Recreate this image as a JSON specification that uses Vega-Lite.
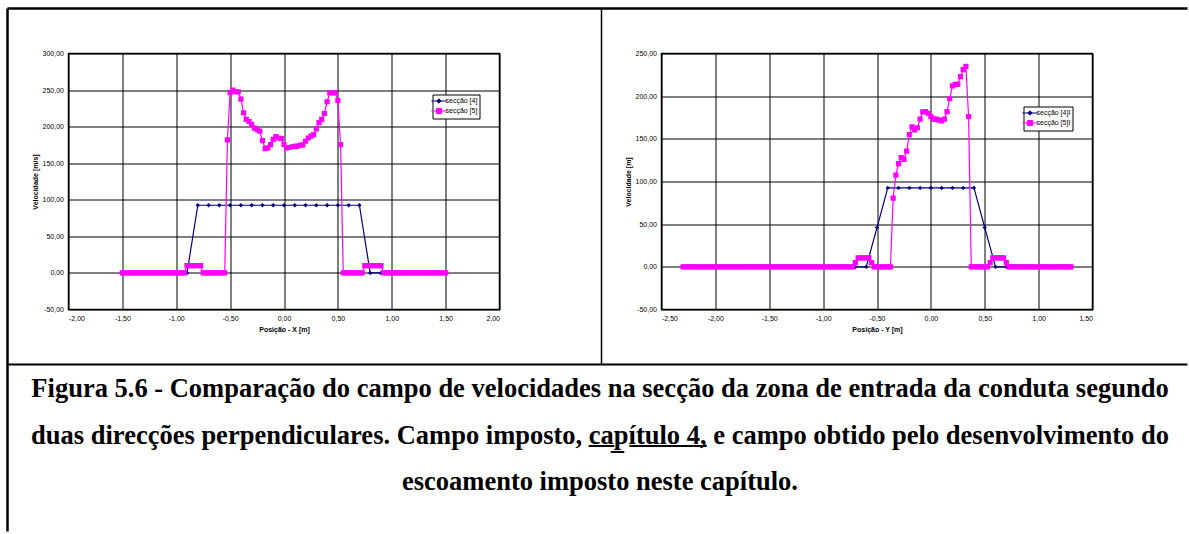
{
  "$schema": "https://vega.github.io/schema/vega-lite/v6.json",
  "background": "white",
  "padding": {"left": 4.5, "top": 6.5, "right": 0, "bottom": 0},
  "config": {
    "locale": {"number": {"decimal": ",", "thousands": ".", "grouping": [3], "currency": ["", " €"], "minus": "-"}},
    "view": {"stroke": "#000", "strokeWidth": 1.5},
    "axis": {"labelFont": "Liberation Sans", "labelFontSize": 7, "labelColor": "#000", "titleFont": "Liberation Sans", "titleFontSize": 7, "titleFontWeight": "bold", "titleColor": "#000", "grid": true, "gridColor": "#000", "gridWidth": 1, "gridOpacity": 1, "domain": false, "ticks": false, "labelPadding": 5, "labelOverlap": false},
    "axisX": {"titlePadding": 4},
    "axisY": {"titlePadding": 4},
    "legend": {"labelFont": "Liberation Sans", "labelFontSize": 7, "labelColor": "#000", "strokeColor": "#000", "fillColor": "#fff", "padding": 2, "rowPadding": 0, "symbolSize": 64, "symbolStrokeWidth": 1, "labelOffset": 2}
  },
  "hconcat": [
    {
      "width": 431,
      "height": 256,
      "layer": [
        {
          "data": {"values": [
            {"x": -0.9, "v": 0, "s": "secção [4]"}, {"x": -0.8, "v": 92.5, "s": "secção [4]"}, {"x": -0.7, "v": 92.5, "s": "secção [4]"}, {"x": -0.6, "v": 92.5, "s": "secção [4]"}, {"x": -0.5, "v": 92.5, "s": "secção [4]"}, {"x": -0.4, "v": 92.5, "s": "secção [4]"}, {"x": -0.3, "v": 92.5, "s": "secção [4]"}, {"x": -0.2, "v": 92.5, "s": "secção [4]"}, {"x": -0.1, "v": 92.5, "s": "secção [4]"}, {"x": 0, "v": 92.5, "s": "secção [4]"}, {"x": 0.1, "v": 92.5, "s": "secção [4]"}, {"x": 0.2, "v": 92.5, "s": "secção [4]"}, {"x": 0.3, "v": 92.5, "s": "secção [4]"}, {"x": 0.4, "v": 92.5, "s": "secção [4]"}, {"x": 0.5, "v": 92.5, "s": "secção [4]"}, {"x": 0.6, "v": 92.5, "s": "secção [4]"}, {"x": 0.7, "v": 92.5, "s": "secção [4]"}, {"x": 0.8, "v": 0, "s": "secção [4]"}, {"x": 0.9, "v": 0, "s": "secção [4]"},
            {"x": -1.5, "v": 0, "s": "secção [5]"}, {"x": -1.475, "v": 0, "s": "secção [5]"}, {"x": -1.45, "v": 0, "s": "secção [5]"}, {"x": -1.425, "v": 0, "s": "secção [5]"}, {"x": -1.4, "v": 0, "s": "secção [5]"}, {"x": -1.375, "v": 0, "s": "secção [5]"}, {"x": -1.35, "v": 0, "s": "secção [5]"}, {"x": -1.325, "v": 0, "s": "secção [5]"}, {"x": -1.3, "v": 0, "s": "secção [5]"}, {"x": -1.275, "v": 0, "s": "secção [5]"}, {"x": -1.25, "v": 0, "s": "secção [5]"}, {"x": -1.225, "v": 0, "s": "secção [5]"}, {"x": -1.2, "v": 0, "s": "secção [5]"}, {"x": -1.175, "v": 0, "s": "secção [5]"}, {"x": -1.15, "v": 0, "s": "secção [5]"}, {"x": -1.125, "v": 0, "s": "secção [5]"}, {"x": -1.1, "v": 0, "s": "secção [5]"}, {"x": -1.075, "v": 0, "s": "secção [5]"}, {"x": -1.05, "v": 0, "s": "secção [5]"}, {"x": -1.025, "v": 0, "s": "secção [5]"}, {"x": -1, "v": 0, "s": "secção [5]"}, {"x": -0.975, "v": 0, "s": "secção [5]"}, {"x": -0.95, "v": 0, "s": "secção [5]"}, {"x": -0.925, "v": 0, "s": "secção [5]"},
            {"x": -0.9, "v": 10, "s": "secção [5]"}, {"x": -0.875, "v": 10, "s": "secção [5]"}, {"x": -0.85, "v": 10, "s": "secção [5]"}, {"x": -0.825, "v": 10, "s": "secção [5]"}, {"x": -0.8, "v": 10, "s": "secção [5]"}, {"x": -0.775, "v": 10, "s": "secção [5]"},
            {"x": -0.75, "v": 0, "s": "secção [5]"}, {"x": -0.725, "v": 0, "s": "secção [5]"}, {"x": -0.7, "v": 0, "s": "secção [5]"}, {"x": -0.675, "v": 0, "s": "secção [5]"}, {"x": -0.65, "v": 0, "s": "secção [5]"}, {"x": -0.625, "v": 0, "s": "secção [5]"}, {"x": -0.6, "v": 0, "s": "secção [5]"}, {"x": -0.575, "v": 0, "s": "secção [5]"}, {"x": -0.55, "v": 0, "s": "secção [5]"},
            {"x": -0.525, "v": 182, "s": "secção [5]"}, {"x": -0.5, "v": 246.5, "s": "secção [5]"}, {"x": -0.475, "v": 250, "s": "secção [5]"}, {"x": -0.45, "v": 248, "s": "secção [5]"}, {"x": -0.425, "v": 247.5, "s": "secção [5]"}, {"x": -0.4, "v": 237.5, "s": "secção [5]"}, {"x": -0.375, "v": 219, "s": "secção [5]"}, {"x": -0.35, "v": 210, "s": "secção [5]"}, {"x": -0.325, "v": 207, "s": "secção [5]"}, {"x": -0.3, "v": 203, "s": "secção [5]"}, {"x": -0.275, "v": 198, "s": "secção [5]"}, {"x": -0.25, "v": 196, "s": "secção [5]"}, {"x": -0.225, "v": 194, "s": "secção [5]"}, {"x": -0.2, "v": 181, "s": "secção [5]"}, {"x": -0.175, "v": 170, "s": "secção [5]"}, {"x": -0.15, "v": 171, "s": "secção [5]"}, {"x": -0.125, "v": 175.5, "s": "secção [5]"}, {"x": -0.1, "v": 182.5, "s": "secção [5]"}, {"x": -0.075, "v": 186.5, "s": "secção [5]"}, {"x": -0.05, "v": 184.5, "s": "secção [5]"}, {"x": -0.025, "v": 183.5, "s": "secção [5]"}, {"x": 0, "v": 175.5, "s": "secção [5]"}, {"x": 0.025, "v": 171, "s": "secção [5]"}, {"x": 0.05, "v": 171.5, "s": "secção [5]"}, {"x": 0.075, "v": 172.5, "s": "secção [5]"}, {"x": 0.1, "v": 173, "s": "secção [5]"}, {"x": 0.125, "v": 173.5, "s": "secção [5]"}, {"x": 0.15, "v": 174.5, "s": "secção [5]"}, {"x": 0.175, "v": 175, "s": "secção [5]"}, {"x": 0.2, "v": 180, "s": "secção [5]"}, {"x": 0.225, "v": 184.5, "s": "secção [5]"}, {"x": 0.25, "v": 187, "s": "secção [5]"}, {"x": 0.275, "v": 189, "s": "secção [5]"}, {"x": 0.3, "v": 197, "s": "secção [5]"}, {"x": 0.325, "v": 205.5, "s": "secção [5]"}, {"x": 0.35, "v": 210, "s": "secção [5]"}, {"x": 0.375, "v": 218, "s": "secção [5]"}, {"x": 0.4, "v": 234, "s": "secção [5]"}, {"x": 0.425, "v": 246, "s": "secção [5]"}, {"x": 0.45, "v": 246.5, "s": "secção [5]"}, {"x": 0.475, "v": 246, "s": "secção [5]"}, {"x": 0.5, "v": 236, "s": "secção [5]"}, {"x": 0.525, "v": 175.5, "s": "secção [5]"},
            {"x": 0.55, "v": 0, "s": "secção [5]"}, {"x": 0.575, "v": 0, "s": "secção [5]"}, {"x": 0.6, "v": 0, "s": "secção [5]"}, {"x": 0.625, "v": 0, "s": "secção [5]"}, {"x": 0.65, "v": 0, "s": "secção [5]"}, {"x": 0.675, "v": 0, "s": "secção [5]"}, {"x": 0.7, "v": 0, "s": "secção [5]"}, {"x": 0.725, "v": 0, "s": "secção [5]"},
            {"x": 0.75, "v": 10, "s": "secção [5]"}, {"x": 0.775, "v": 10, "s": "secção [5]"}, {"x": 0.8, "v": 10, "s": "secção [5]"}, {"x": 0.825, "v": 10, "s": "secção [5]"}, {"x": 0.85, "v": 10, "s": "secção [5]"}, {"x": 0.875, "v": 10, "s": "secção [5]"}, {"x": 0.9, "v": 10, "s": "secção [5]"},
            {"x": 0.925, "v": 0, "s": "secção [5]"}, {"x": 0.95, "v": 0, "s": "secção [5]"}, {"x": 0.975, "v": 0, "s": "secção [5]"}, {"x": 1, "v": 0, "s": "secção [5]"}, {"x": 1.025, "v": 0, "s": "secção [5]"}, {"x": 1.05, "v": 0, "s": "secção [5]"}, {"x": 1.075, "v": 0, "s": "secção [5]"}, {"x": 1.1, "v": 0, "s": "secção [5]"}, {"x": 1.125, "v": 0, "s": "secção [5]"}, {"x": 1.15, "v": 0, "s": "secção [5]"}, {"x": 1.175, "v": 0, "s": "secção [5]"}, {"x": 1.2, "v": 0, "s": "secção [5]"}, {"x": 1.225, "v": 0, "s": "secção [5]"}, {"x": 1.25, "v": 0, "s": "secção [5]"}, {"x": 1.275, "v": 0, "s": "secção [5]"}, {"x": 1.3, "v": 0, "s": "secção [5]"}, {"x": 1.325, "v": 0, "s": "secção [5]"}, {"x": 1.35, "v": 0, "s": "secção [5]"}, {"x": 1.375, "v": 0, "s": "secção [5]"}, {"x": 1.4, "v": 0, "s": "secção [5]"}, {"x": 1.425, "v": 0, "s": "secção [5]"}, {"x": 1.45, "v": 0, "s": "secção [5]"}, {"x": 1.475, "v": 0, "s": "secção [5]"}, {"x": 1.5, "v": 0, "s": "secção [5]"}
          ]},
          "layer": [
            {
              "mark": {"type": "line", "strokeWidth": 1.2},
              "encoding": {
                "x": {"field": "x", "type": "quantitative", "scale": {"domain": [-2, 2], "nice": false, "zero": false}, "axis": {"values": [-2, -1.5, -1, -0.5, 0, 0.5, 1, 1.5, 2], "tickCount": 30, "format": ".2f", "title": "Posição - X [m]", "labelOverlap": false}},
                "y": {"field": "v", "type": "quantitative", "scale": {"domain": [-50, 300], "nice": false, "zero": false}, "axis": {"values": [-50, 0, 50, 100, 150, 200, 250, 300], "tickCount": 30, "format": ".2f", "title": "Velocidade [m/s]", "labelOverlap": false}},
                "color": {"field": "s", "type": "nominal", "scale": {"domain": ["secção [4]", "secção [5]"], "range": ["#000080", "#ff00ff"]}, "legend": {"orient": "none", "legendX": 364, "legendY": 41, "title": null}}
              }
            },
            {
              "mark": {"type": "point", "filled": true, "size": 64, "opacity": 1},
              "encoding": {
                "x": {"field": "x", "type": "quantitative"},
                "y": {"field": "v", "type": "quantitative"},
                "color": {"field": "s", "type": "nominal", "scale": {"domain": ["secção [4]", "secção [5]"], "range": ["#000080", "#ff00ff"]}, "legend": {"orient": "none", "legendX": 364, "legendY": 41, "title": null}},
                "shape": {"field": "s", "type": "nominal", "scale": {"domain": ["secção [4]", "secção [5]"], "range": ["M-1.9,0L1.9,0M0,-0.55L0.55,0L0,0.55L-0.55,0Z", "M-1.9,0L1.9,0M-0.65,-0.65L0.65,-0.65L0.65,0.65L-0.65,0.65Z"]}, "legend": {"orient": "none", "legendX": 364, "legendY": 41, "title": null}}
              }
            },
            {
              "data": {"values": [{}]},
              "mark": {"type": "rule", "color": "#000", "strokeWidth": 2.5, "clip": false},
              "encoding": {"x": {"datum": -2.56613, "type": "quantitative"}, "y": {"datum": 361.523, "type": "quantitative"}, "y2": {"datum": -353.52}}
            },
            {
              "data": {"values": [{}]},
              "mark": {"type": "rule", "color": "#000", "strokeWidth": 2.5, "clip": false},
              "encoding": {"x": {"datum": -2.56613, "type": "quantitative"}, "x2": {"datum": 8.385}, "y": {"datum": 361.523, "type": "quantitative"}}
            },
            {
              "data": {"values": [{}]},
              "mark": {"type": "rule", "color": "#000", "strokeWidth": 1.5, "clip": false},
              "encoding": {"x": {"datum": 2.9466, "type": "quantitative"}, "y": {"datum": 361.523, "type": "quantitative"}, "y2": {"datum": -125.195}}
            },
            {
              "data": {"values": [{}]},
              "mark": {"type": "rule", "color": "#000", "strokeWidth": 2, "clip": false},
              "encoding": {"x": {"datum": -2.56613, "type": "quantitative"}, "x2": {"datum": 8.385}, "y": {"datum": -125.195, "type": "quantitative"}}
            }
          ]
        },
        {
          "data": {"values": [
            {"line": 1, "t": "Figura 5.6 - Comparação do campo de velocidades na secção da zona de entrada da conduta segundo"},
            {"line": 2, "t": "duas direcções perpendiculares. Campo imposto, c\u0332a\u0332p\u0332\u00ed\u0332t\u0332u\u0332l\u0332o\u0332 \u03324\u0332, e campo obtido pelo desenvolvimento do"},
            {"line": 3, "t": "escoamento imposto neste capítulo."}
          ]},
          "mark": {"type": "text", "font": "Liberation Serif", "fontWeight": "bold", "fontSize": 26.5, "align": "center", "baseline": "alphabetic", "color": "#000", "clip": false},
          "encoding": {
            "x": {"datum": 2.9327, "type": "quantitative"},
            "y": {"field": "line", "type": "quantitative", "scale": {"domain": [-6.3978, -0.8924], "reverse": true, "nice": false, "zero": false}, "axis": null},
            "text": {"field": "t", "type": "nominal"}
          }
        }
      ],
      "resolve": {"scale": {"y": "independent"}}
    },
    {
      "width": 431,
      "height": 256,
      "data": {"values": [
        {"x": -0.7, "v": 0, "s": "secção [4]I"}, {"x": -0.6, "v": 0, "s": "secção [4]I"}, {"x": -0.5, "v": 46, "s": "secção [4]I"}, {"x": -0.4, "v": 92.5, "s": "secção [4]I"}, {"x": -0.3, "v": 92.5, "s": "secção [4]I"}, {"x": -0.2, "v": 92.5, "s": "secção [4]I"}, {"x": -0.1, "v": 92.5, "s": "secção [4]I"}, {"x": 0, "v": 92.5, "s": "secção [4]I"}, {"x": 0.1, "v": 92.5, "s": "secção [4]I"}, {"x": 0.2, "v": 92.5, "s": "secção [4]I"}, {"x": 0.3, "v": 92.5, "s": "secção [4]I"}, {"x": 0.4, "v": 92.5, "s": "secção [4]I"}, {"x": 0.5, "v": 46, "s": "secção [4]I"}, {"x": 0.6, "v": 0, "s": "secção [4]I"}, {"x": 0.7, "v": 0, "s": "secção [4]I"},
        {"x": -2.3, "v": 0, "s": "secção [5]I"}, {"x": -2.275, "v": 0, "s": "secção [5]I"}, {"x": -2.25, "v": 0, "s": "secção [5]I"}, {"x": -2.225, "v": 0, "s": "secção [5]I"}, {"x": -2.2, "v": 0, "s": "secção [5]I"}, {"x": -2.175, "v": 0, "s": "secção [5]I"}, {"x": -2.15, "v": 0, "s": "secção [5]I"}, {"x": -2.125, "v": 0, "s": "secção [5]I"}, {"x": -2.1, "v": 0, "s": "secção [5]I"}, {"x": -2.075, "v": 0, "s": "secção [5]I"}, {"x": -2.05, "v": 0, "s": "secção [5]I"}, {"x": -2.025, "v": 0, "s": "secção [5]I"}, {"x": -2, "v": 0, "s": "secção [5]I"}, {"x": -1.975, "v": 0, "s": "secção [5]I"}, {"x": -1.95, "v": 0, "s": "secção [5]I"}, {"x": -1.925, "v": 0, "s": "secção [5]I"}, {"x": -1.9, "v": 0, "s": "secção [5]I"}, {"x": -1.875, "v": 0, "s": "secção [5]I"}, {"x": -1.85, "v": 0, "s": "secção [5]I"}, {"x": -1.825, "v": 0, "s": "secção [5]I"}, {"x": -1.8, "v": 0, "s": "secção [5]I"}, {"x": -1.775, "v": 0, "s": "secção [5]I"}, {"x": -1.75, "v": 0, "s": "secção [5]I"}, {"x": -1.725, "v": 0, "s": "secção [5]I"}, {"x": -1.7, "v": 0, "s": "secção [5]I"}, {"x": -1.675, "v": 0, "s": "secção [5]I"}, {"x": -1.65, "v": 0, "s": "secção [5]I"}, {"x": -1.625, "v": 0, "s": "secção [5]I"}, {"x": -1.6, "v": 0, "s": "secção [5]I"}, {"x": -1.575, "v": 0, "s": "secção [5]I"}, {"x": -1.55, "v": 0, "s": "secção [5]I"}, {"x": -1.525, "v": 0, "s": "secção [5]I"}, {"x": -1.5, "v": 0, "s": "secção [5]I"}, {"x": -1.475, "v": 0, "s": "secção [5]I"}, {"x": -1.45, "v": 0, "s": "secção [5]I"}, {"x": -1.425, "v": 0, "s": "secção [5]I"}, {"x": -1.4, "v": 0, "s": "secção [5]I"}, {"x": -1.375, "v": 0, "s": "secção [5]I"}, {"x": -1.35, "v": 0, "s": "secção [5]I"}, {"x": -1.325, "v": 0, "s": "secção [5]I"}, {"x": -1.3, "v": 0, "s": "secção [5]I"}, {"x": -1.275, "v": 0, "s": "secção [5]I"}, {"x": -1.25, "v": 0, "s": "secção [5]I"}, {"x": -1.225, "v": 0, "s": "secção [5]I"}, {"x": -1.2, "v": 0, "s": "secção [5]I"}, {"x": -1.175, "v": 0, "s": "secção [5]I"}, {"x": -1.15, "v": 0, "s": "secção [5]I"}, {"x": -1.125, "v": 0, "s": "secção [5]I"}, {"x": -1.1, "v": 0, "s": "secção [5]I"}, {"x": -1.075, "v": 0, "s": "secção [5]I"}, {"x": -1.05, "v": 0, "s": "secção [5]I"}, {"x": -1.025, "v": 0, "s": "secção [5]I"}, {"x": -1, "v": 0, "s": "secção [5]I"}, {"x": -0.975, "v": 0, "s": "secção [5]I"}, {"x": -0.95, "v": 0, "s": "secção [5]I"}, {"x": -0.925, "v": 0, "s": "secção [5]I"}, {"x": -0.9, "v": 0, "s": "secção [5]I"}, {"x": -0.875, "v": 0, "s": "secção [5]I"}, {"x": -0.85, "v": 0, "s": "secção [5]I"}, {"x": -0.825, "v": 0, "s": "secção [5]I"}, {"x": -0.8, "v": 0, "s": "secção [5]I"}, {"x": -0.775, "v": 0, "s": "secção [5]I"}, {"x": -0.75, "v": 0, "s": "secção [5]I"}, {"x": -0.725, "v": 0, "s": "secção [5]I"},
        {"x": -0.7, "v": 5, "s": "secção [5]I"}, {"x": -0.675, "v": 10.5, "s": "secção [5]I"}, {"x": -0.65, "v": 10.5, "s": "secção [5]I"}, {"x": -0.625, "v": 10.5, "s": "secção [5]I"}, {"x": -0.6, "v": 10.5, "s": "secção [5]I"}, {"x": -0.575, "v": 10.5, "s": "secção [5]I"}, {"x": -0.55, "v": 5, "s": "secção [5]I"},
        {"x": -0.525, "v": 0, "s": "secção [5]I"}, {"x": -0.5, "v": 0, "s": "secção [5]I"}, {"x": -0.475, "v": 0, "s": "secção [5]I"}, {"x": -0.45, "v": 0, "s": "secção [5]I"}, {"x": -0.425, "v": 0, "s": "secção [5]I"}, {"x": -0.4, "v": 0, "s": "secção [5]I"}, {"x": -0.375, "v": 0, "s": "secção [5]I"},
        {"x": -0.35, "v": 80.5, "s": "secção [5]I"}, {"x": -0.325, "v": 107.5, "s": "secção [5]I"}, {"x": -0.3, "v": 121, "s": "secção [5]I"}, {"x": -0.275, "v": 128, "s": "secção [5]I"}, {"x": -0.25, "v": 126, "s": "secção [5]I"}, {"x": -0.225, "v": 135.5, "s": "secção [5]I"}, {"x": -0.2, "v": 155, "s": "secção [5]I"}, {"x": -0.175, "v": 164, "s": "secção [5]I"}, {"x": -0.15, "v": 160.5, "s": "secção [5]I"}, {"x": -0.125, "v": 163, "s": "secção [5]I"}, {"x": -0.1, "v": 173, "s": "secção [5]I"}, {"x": -0.075, "v": 181.5, "s": "secção [5]I"}, {"x": -0.05, "v": 182, "s": "secção [5]I"}, {"x": -0.025, "v": 180, "s": "secção [5]I"}, {"x": 0, "v": 176, "s": "secção [5]I"}, {"x": 0.025, "v": 173, "s": "secção [5]I"}, {"x": 0.05, "v": 173, "s": "secção [5]I"}, {"x": 0.075, "v": 172, "s": "secção [5]I"}, {"x": 0.1, "v": 171, "s": "secção [5]I"}, {"x": 0.125, "v": 173, "s": "secção [5]I"}, {"x": 0.15, "v": 182, "s": "secção [5]I"}, {"x": 0.175, "v": 197, "s": "secção [5]I"}, {"x": 0.2, "v": 212, "s": "secção [5]I"}, {"x": 0.225, "v": 213.5, "s": "secção [5]I"}, {"x": 0.25, "v": 214, "s": "secção [5]I"}, {"x": 0.275, "v": 223, "s": "secção [5]I"}, {"x": 0.3, "v": 231, "s": "secção [5]I"}, {"x": 0.325, "v": 235, "s": "secção [5]I"}, {"x": 0.35, "v": 176, "s": "secção [5]I"},
        {"x": 0.375, "v": 0, "s": "secção [5]I"}, {"x": 0.4, "v": 0, "s": "secção [5]I"}, {"x": 0.425, "v": 0, "s": "secção [5]I"}, {"x": 0.45, "v": 0, "s": "secção [5]I"}, {"x": 0.475, "v": 0, "s": "secção [5]I"}, {"x": 0.5, "v": 0, "s": "secção [5]I"}, {"x": 0.525, "v": 0, "s": "secção [5]I"},
        {"x": 0.55, "v": 5, "s": "secção [5]I"}, {"x": 0.575, "v": 10.5, "s": "secção [5]I"}, {"x": 0.6, "v": 10.5, "s": "secção [5]I"}, {"x": 0.625, "v": 10.5, "s": "secção [5]I"}, {"x": 0.65, "v": 10.5, "s": "secção [5]I"}, {"x": 0.675, "v": 10.5, "s": "secção [5]I"}, {"x": 0.7, "v": 5, "s": "secção [5]I"},
        {"x": 0.725, "v": 0, "s": "secção [5]I"}, {"x": 0.75, "v": 0, "s": "secção [5]I"}, {"x": 0.775, "v": 0, "s": "secção [5]I"}, {"x": 0.8, "v": 0, "s": "secção [5]I"}, {"x": 0.825, "v": 0, "s": "secção [5]I"}, {"x": 0.85, "v": 0, "s": "secção [5]I"}, {"x": 0.875, "v": 0, "s": "secção [5]I"}, {"x": 0.9, "v": 0, "s": "secção [5]I"}, {"x": 0.925, "v": 0, "s": "secção [5]I"}, {"x": 0.95, "v": 0, "s": "secção [5]I"}, {"x": 0.975, "v": 0, "s": "secção [5]I"}, {"x": 1, "v": 0, "s": "secção [5]I"}, {"x": 1.025, "v": 0, "s": "secção [5]I"}, {"x": 1.05, "v": 0, "s": "secção [5]I"}, {"x": 1.075, "v": 0, "s": "secção [5]I"}, {"x": 1.1, "v": 0, "s": "secção [5]I"}, {"x": 1.125, "v": 0, "s": "secção [5]I"}, {"x": 1.15, "v": 0, "s": "secção [5]I"}, {"x": 1.175, "v": 0, "s": "secção [5]I"}, {"x": 1.2, "v": 0, "s": "secção [5]I"}, {"x": 1.225, "v": 0, "s": "secção [5]I"}, {"x": 1.25, "v": 0, "s": "secção [5]I"}, {"x": 1.275, "v": 0, "s": "secção [5]I"}, {"x": 1.3, "v": 0, "s": "secção [5]I"}
      ]},
      "layer": [
        {
          "mark": {"type": "line", "strokeWidth": 1.2},
          "encoding": {
            "x": {"field": "x", "type": "quantitative", "scale": {"domain": [-2.5, 1.5], "nice": false, "zero": false}, "axis": {"values": [-2.5, -2, -1.5, -1, -0.5, 0, 0.5, 1, 1.5], "tickCount": 30, "format": ".2f", "title": "Posição - Y [m]", "labelOverlap": false}},
            "y": {"field": "v", "type": "quantitative", "scale": {"domain": [-50, 250], "nice": false, "zero": false}, "axis": {"values": [-50, 0, 50, 100, 150, 200, 250], "tickCount": 30, "format": ".2f", "title": "Velocidade [m]", "labelOverlap": false}},
            "color": {"field": "s", "type": "nominal", "scale": {"domain": ["secção [4]I", "secção [5]I"], "range": ["#000080", "#ff00ff"]}, "legend": {"orient": "none", "legendX": 362, "legendY": 53, "title": null}}
          }
        },
        {
          "mark": {"type": "point", "filled": true, "size": 64, "opacity": 1},
          "encoding": {
            "x": {"field": "x", "type": "quantitative"},
            "y": {"field": "v", "type": "quantitative"},
            "color": {"field": "s", "type": "nominal", "scale": {"domain": ["secção [4]I", "secção [5]I"], "range": ["#000080", "#ff00ff"]}, "legend": {"orient": "none", "legendX": 362, "legendY": 53, "title": null}},
            "shape": {"field": "s", "type": "nominal", "scale": {"domain": ["secção [4]I", "secção [5]I"], "range": ["M-1.9,0L1.9,0M0,-0.55L0.55,0L0,0.55L-0.55,0Z", "M-1.9,0L1.9,0M-0.65,-0.65L0.65,-0.65L0.65,0.65L-0.65,0.65Z"]}, "legend": {"orient": "none", "legendX": 362, "legendY": 53, "title": null}}
          }
        }
      ]
    }
  ],
  "spacing": 162,
  "bounds": "flush",
  "resolve": {"scale": {"color": "independent", "shape": "independent"}}
}
